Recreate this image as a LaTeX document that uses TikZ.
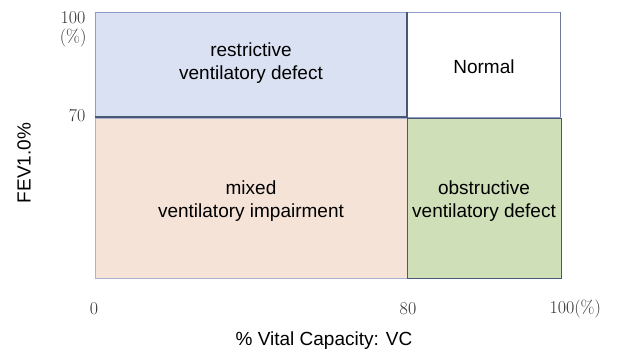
\documentclass[tikz,border=0pt]{standalone}
\usepackage{fontspec}
\setsansfont{Liberation Sans}
\begin{document}
\begin{tikzpicture}[x=1pt,y=-1pt,
  lbl/.style={font=\sffamily\fontsize{19}{23}\selectfont, align=center, text=black},
  tick/.style={font=\rmfamily\fontsize{18}{20}\selectfont, text=black!80},
  regbox/.style={line width=0.9pt}]
\definecolor{bluefill}{HTML}{DAE1F2}
\definecolor{blueedge}{HTML}{8E9DC6}
\definecolor{peachfill}{HTML}{F5E3D8}
\definecolor{peachedge}{HTML}{A9B3CE}
\definecolor{greenfill}{HTML}{CFDFB8}
\definecolor{darkedge}{HTML}{4A5878}
\useasboundingbox (0,0) rectangle (619,353);
\fill[white] (0,0) rectangle (619,353);
% regions
\draw[regbox, fill=bluefill, draw=blueedge] (95,12) rectangle (407,116);
\draw[regbox, fill=white, draw=blueedge] (407,12) rectangle (560,117);
\draw[regbox, fill=peachfill, draw=peachedge] (95,118) rectangle (407,278);
\draw[regbox, fill=greenfill, draw=darkedge] (407,118) rectangle (561,278);
\draw[line width=1.2pt, draw=darkedge] (95,117) -- (407,117);
\draw[line width=1.2pt, draw=darkedge] (407,12) -- (407,118);
\draw[line width=1.0pt, draw=darkedge!80] (560,12) -- (560,117);
% region labels
\node[lbl] (restr) at (251,63) {restrictive\\ventilatory defect};
\node[lbl] (normal) at (484,67) {Normal};
\node[lbl] (mixed) at (251,201) {mixed\\ventilatory impairment};
\node[lbl] (obstr) at (484,201) {obstructive\\ventilatory defect};
% axis ticks
\node[tick, anchor=east] (y100) at (89,18) {100};
\node[tick, anchor=east] (ypct) at (90,38) {(\%)};
\node[tick, anchor=east] (y70) at (89,116) {70};
\node[tick] (x0) at (94,309) {0};
\node[tick] (x80) at (408,309) {80};
\node[tick, anchor=west] (x100) at (546,309) {100(\%)};
% axis titles
\node[lbl, rotate=90] (ytitle) at (24,163) {FEV1.0\%};
\node[lbl] (xtitle) at (324,341) {\% Vital Capacity: VC};
\end{tikzpicture}
\end{document}
